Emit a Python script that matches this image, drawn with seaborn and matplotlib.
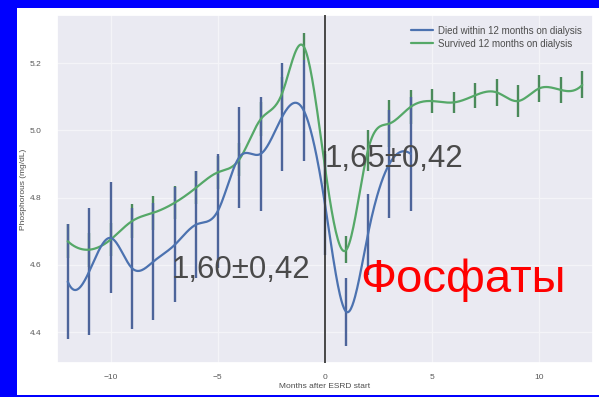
import numpy as np
import pandas as pd
import matplotlib
matplotlib.use("Agg")
import matplotlib.pyplot as plt
import seaborn as sns
from matplotlib.lines import Line2D
from matplotlib.patches import Rectangle

# ---- data ----
months_died = list(range(-12, 5))
died_mean = [4.55, 4.58, 4.68, 4.59, 4.61, 4.66, 4.72, 4.76, 4.92, 4.93, 5.04, 5.06,
             4.78, 4.46, 4.69, 4.90, 4.93]
died_err = [0.17, 0.19, 0.165, 0.18, 0.175, 0.17, 0.16, 0.17, 0.15, 0.17, 0.16, 0.15,
            0.15, 0.10, 0.12, 0.16, 0.17]

months_surv = list(range(-12, 13))
surv_mean = [4.67, 4.645, 4.675, 4.73, 4.755, 4.785, 4.83, 4.875, 4.913, 5.033, 5.11, 5.25,
             4.89, 4.645, 4.94, 5.02, 5.07, 5.087, 5.083, 5.104, 5.113, 5.087, 5.125, 5.12, 5.135]
surv_err = [0.05, 0.05, 0.05, 0.05, 0.05, 0.05, 0.05, 0.05, 0.05, 0.05, 0.05, 0.04,
            0.05, 0.04, 0.06, 0.07, 0.05, 0.036, 0.03, 0.037, 0.04, 0.048, 0.04, 0.04, 0.04]

series_labels = ["Died within 12 months on dialysis", "Survived 12 months on dialysis"]
x_ticks = [-10, -5, 0, 5, 10]
y_ticks = [4.4, 4.6, 4.8, 5.0, 5.2]
x_label = "Months after ESRD start"
y_label = "Phosphorous (mg/dL)"
annot_surv = "1,65±0,42"
annot_died = "1,60±0,42"
title_ru = "Фосфаты"


def smooth_curve(x, y, n=500):
    """Cubic spline (not-a-knot) through the read points, for drawing the smooth line."""
    x = np.asarray(x, float)
    y = np.asarray(y, float)
    k = len(x)
    h = np.diff(x)
    A = np.zeros((k, k))
    b = np.zeros(k)
    A[0, 0], A[0, 1], A[0, 2] = h[1], -(h[0] + h[1]), h[0]
    A[-1, -3], A[-1, -2], A[-1, -1] = h[-1], -(h[-2] + h[-1]), h[-2]
    for i in range(1, k - 1):
        A[i, i - 1] = h[i - 1]
        A[i, i] = 2 * (h[i - 1] + h[i])
        A[i, i + 1] = h[i]
        b[i] = 3 * ((y[i + 1] - y[i]) / h[i] - (y[i] - y[i - 1]) / h[i - 1])
    c = np.linalg.solve(A, b)
    xs = np.linspace(x[0], x[-1], n)
    idx = np.clip(np.searchsorted(x, xs) - 1, 0, k - 2)
    dx = xs - x[idx]
    bc = (y[1:] - y[:-1]) / h - h * (2 * c[:-1] + c[1:]) / 3
    d = (c[1:] - c[:-1]) / (3 * h)
    ys = y[idx] + bc[idx] * dx + c[idx] * dx ** 2 + d[idx] * dx ** 3
    return xs, ys


sns.set_theme(style="darkgrid", rc={"grid.color": "#F4F4F8", "grid.linewidth": 0.9})
plt.rcParams["font.family"] = ["Liberation Sans", "DejaVu Sans"]

W, H = 599, 397
fig = plt.figure(figsize=(W / 100, H / 100), dpi=100)
fig.patch.set_facecolor("white")

# blue frame
fig.patches.append(Rectangle((0, 1 - 8 / H), 1, 8 / H, transform=fig.transFigure,
                             facecolor="#0000FF", edgecolor="none", zorder=0))
fig.patches.append(Rectangle((0, 0), 17 / W, 1, transform=fig.transFigure,
                             facecolor="#0000FF", edgecolor="none", zorder=0))
fig.patches.append(Rectangle((0, 0), 1, 2 / H, transform=fig.transFigure,
                             facecolor="#0000FF", edgecolor="none", zorder=0))

ax = fig.add_axes([57 / W, 1 - 363 / H, (593 - 57) / W, (363 - 15) / H])
ax.set_facecolor("#EAEAF2")

blue = "#4C72B0"
green = "#55A868"
blue_bar = "#4D649A"
green_bar = "#4A8A5A"

for months, mean, err, col, bcol, z in [
    (months_surv, surv_mean, surv_err, green, green_bar, 2.5),
    (months_died, died_mean, died_err, blue, blue_bar, 2.8),
]:
    xs, ys = smooth_curve(months, mean)
    df = pd.DataFrame({"month": xs, "value": ys})
    ax.errorbar(months, mean, yerr=err, fmt="none", ecolor=bcol, elinewidth=1.7,
                capsize=0, zorder=z)
    sns.lineplot(data=df, x="month", y="value", color=col, lw=1.6, ax=ax,
                 legend=False, sort=False, zorder=3)

ax.axvline(0, color="#3a3a3a", lw=1.3, zorder=4)

ax.set_xlim(-12.5, 12.5)
ax.set_ylim(4.308, 5.343)
ax.set_xticks(x_ticks)
ax.set_yticks(y_ticks)
ax.set_yticklabels([f"{v:.1f}" for v in y_ticks])
ax.tick_params(axis="x", labelsize=6, colors="0.35", pad=2)
ax.tick_params(axis="y", labelsize=6, colors="0.35", pad=5)
ax.set_xlabel(x_label, fontsize=6, color="0.3", labelpad=1)
ax.set_ylabel(y_label, fontsize=6, color="0.3", labelpad=2)

handles = [Line2D([], [], color=blue, lw=1.6), Line2D([], [], color=green, lw=1.6)]
ax.legend(handles, series_labels, loc="upper right", frameon=False, fontsize=7,
          labelcolor="0.3", handlelength=2.2, labelspacing=0.3, handletextpad=0.6,
          borderaxespad=0.7)

fig.text(325 / W, 1 - 167 / H, annot_surv, fontsize=22.5, color="#4a4a4a",
         ha="left", va="baseline")
fig.text(172 / W, 1 - 278 / H, annot_died, fontsize=22.5, color="#4a4a4a",
         ha="left", va="baseline")
fig.text(360 / W, 1 - 292 / H, title_ru, fontsize=34, color="#FF0000",
         ha="left", va="baseline")

fig.savefig("out.png", dpi=100)
